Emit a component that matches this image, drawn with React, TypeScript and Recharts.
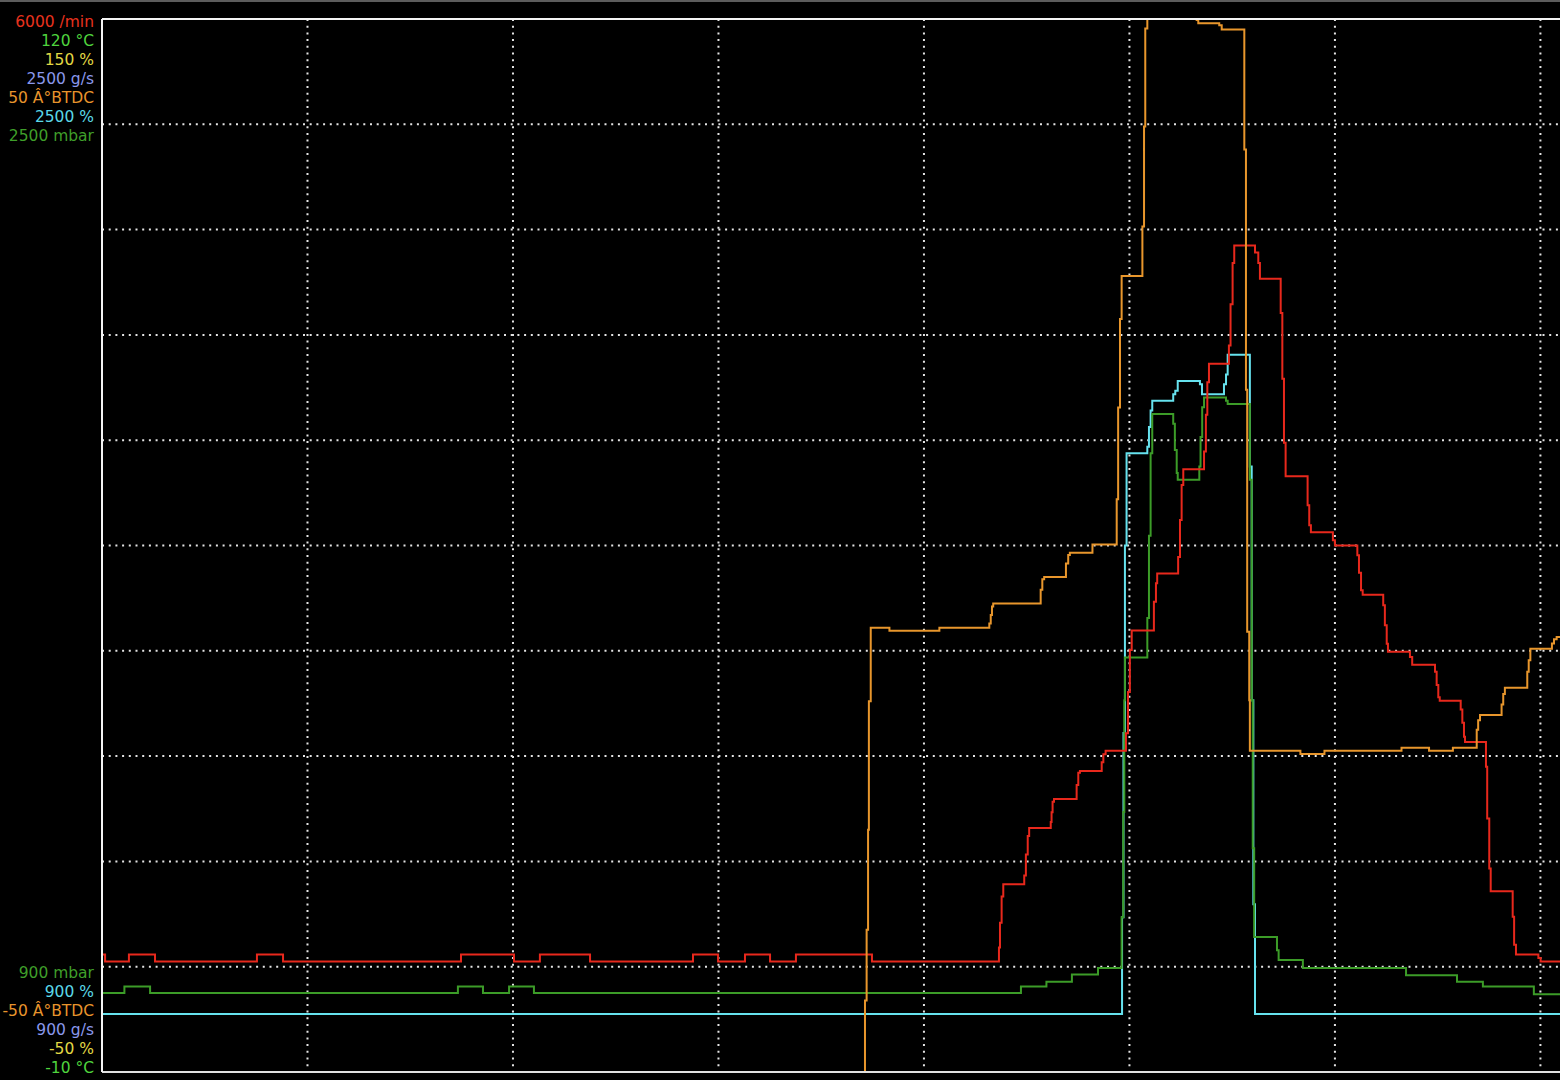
import { CartesianGrid, Line, LineChart, ReferenceLine, XAxis, YAxis } from "recharts";

// [time s, value] – each entry starts a new level (step trace)
type Step = [number, number];

const rpmSteps: Step[] = [
  [0, 670], [0.15, 630], [1.31, 670], [2.58, 630], [7.54, 670], [8.81, 630],
  [17.47, 670], [20.05, 630], [21.31, 670], [23.75, 630], [28.76, 670], [29.98, 630],
  [31.29, 670], [32.51, 630], [33.77, 670], [37.47, 630],
  [43.65, 710], [43.7, 850], [43.78, 1000], [43.86, 1070],
  [44.88, 1120], [44.96, 1240], [45.05, 1345], [45.12, 1390],
  [46.17, 1425], [46.21, 1480], [46.26, 1540], [46.33, 1555],
  [47.43, 1635], [47.51, 1705], [47.59, 1715],
  [48.65, 1765], [48.73, 1810], [48.84, 1830],
  [49.83, 1930], [49.93, 2165], [50.02, 2405], [50.11, 2515],
  [51.19, 2680], [51.29, 2785], [51.35, 2840],
  [52.37, 2935], [52.46, 3145], [52.54, 3345], [52.62, 3435],
  [53.63, 3535], [53.72, 3745], [53.79, 3930], [53.87, 4035],
  [54.84, 4140], [54.92, 4375], [55.02, 4610], [55.1, 4710],
  [56.11, 4670], [56.27, 4610], [56.35, 4520],
  [57.36, 4325], [57.44, 3950], [57.52, 3585], [57.6, 3395],
  [58.67, 3230], [58.75, 3115], [58.83, 3075],
  [59.9, 3030], [60.0, 3000],
  [61.09, 2945], [61.17, 2845], [61.27, 2745], [61.35, 2720],
  [62.35, 2660], [62.43, 2545], [62.52, 2440], [62.58, 2395],
  [63.65, 2365], [63.76, 2320],
  [64.87, 2280], [64.95, 2205], [65.03, 2135], [65.1, 2115],
  [66.12, 2065], [66.2, 1990], [66.28, 1910], [66.33, 1880],
  [67.35, 1740], [67.41, 1445], [67.51, 1160], [67.58, 1030],
  [68.65, 885], [68.72, 725], [68.81, 670],
  [69.9, 650], [70.01, 630], [71.05, 630],
];

const mbarSteps: Step[] = [
  [0, 1020], [1.09, 1030], [2.34, 1020], [17.32, 1030], [18.54, 1020], [19.81, 1030],
  [21.02, 1020], [44.72, 1030], [45.96, 1037], [47.2, 1048], [48.47, 1058],
  [49.62, 1135], [49.7, 1295], [49.75, 1465], [49.78, 1530],
  [50.87, 1590], [50.95, 1715], [51.03, 1840], [51.11, 1900],
  [52.13, 1885], [52.21, 1845], [52.3, 1810], [52.35, 1800],
  [53.4, 1820], [53.46, 1865], [53.54, 1910], [53.63, 1925],
  [54.7, 1920], [54.78, 1915],
  [55.86, 1800], [55.95, 1465], [56.0, 1240], [56.07, 1105],
  [57.18, 1085], [57.26, 1070], [58.44, 1058], [63.46, 1047], [65.94, 1037],
  [67.2, 1030], [69.68, 1018], [71.05, 1018],
];

const boostSteps: Step[] = [
  [0, 988], [49.64, 1135], [49.71, 1415], [49.78, 1700], [49.86, 1840],
  [50.87, 1850], [50.95, 1880], [51.03, 1905], [51.11, 1920],
  [52.13, 1930], [52.23, 1935], [52.35, 1950],
  [53.43, 1945], [53.53, 1930], [54.6, 1945], [54.7, 1960], [54.78, 1990],
  [55.86, 1820], [55.95, 1465], [56.03, 1155], [56.11, 988], [71.05, 988],
];

const timingSteps: Step[] = [
  [37.1, -52], [37.13, -43.2], [37.21, -36.5], [37.28, -27], [37.32, -14.8], [37.41, -7.8],
  [38.32, -8.1], [40.75, -7.8],
  [43.18, -7.4], [43.25, -6.6], [43.31, -5.8], [43.37, -5.5],
  [45.68, -4.2], [45.76, -3.2], [45.85, -3.0],
  [46.91, -1.7], [47.02, -0.9], [47.1, -0.7], [48.2, 0.1],
  [49.38, 4.4], [49.45, 13.1], [49.54, 21.5], [49.62, 25.6],
  [50.63, 30.3], [50.71, 39.8], [50.77, 49.1], [50.87, 55],
  [53.27, 49.9], [53.35, 49.6], [54.37, 49.4], [54.49, 49.0],
  [55.59, 37.6], [55.67, 14.8], [55.73, -8.2], [55.83, -14.7], [55.86, -19.5],
  [58.32, -19.8], [59.49, -19.5], [63.24, -19.2], [64.58, -19.5], [65.74, -19.2],
  [66.9, -17.5], [66.97, -16.6], [67.06, -16.1],
  [68.11, -15.1], [68.19, -14.1], [68.27, -13.5],
  [69.36, -12.0], [69.43, -10.9], [69.51, -9.8],
  [70.56, -9.3], [70.66, -8.9], [70.79, -8.7], [71.05, -8.7],
];

const timeTicks = [10, 20, 30, 40, 50, 60, 70];
const rpmTicks = [600, 1200, 1800, 2400, 3000, 3600, 4200, 4800, 5400];

const topLabels = [
  { text: "6000 /min", color: "#e8321e" },
  { text: "120 °C", color: "#4fd43e" },
  { text: "150 %", color: "#e2d844" },
  { text: "2500 g/s", color: "#8a98ec" },
  { text: "50 Â°BTDC", color: "#e8942c" },
  { text: "2500 %", color: "#5ad8e8" },
  { text: "2500 mbar", color: "#3f9f2a" },
];

const bottomLabels = [
  { text: "900 mbar", color: "#3f9f2a" },
  { text: "900 %", color: "#5ad8e8" },
  { text: "-50 Â°BTDC", color: "#e8942c" },
  { text: "900 g/s", color: "#8a98ec" },
  { text: "-50 %", color: "#e2d844" },
  { text: "-10 °C", color: "#4fd43e" },
];

const toPoints = (steps: Step[]) => steps.map(([t, v]) => ({ t, v }));

function Labels({ items, top }: { items: { text: string; color: string }[]; top: number }) {
  return (
    <>
      {items.map((l, i) => (
        <div
          key={l.text}
          style={{
            position: "absolute",
            right: 1560 - 94,
            top: top + i * 19,
            lineHeight: "19px",
            whiteSpace: "nowrap",
            color: l.color,
            fontFamily: "'DejaVu Sans', sans-serif",
            fontSize: 15.5,
          }}
        >
          {l.text}
        </div>
      ))}
    </>
  );
}

export default function App() {
  const line = { type: "stepAfter" as const, dataKey: "v", dot: false, activeDot: false, strokeWidth: 2, isAnimationActive: false };
  // plot runs 2px past the window edge so the grid's closing line is cut off, like the reference
  return (
    <div style={{ position: "fixed", left: 0, top: 0, width: 1560, height: 1080, background: "#000", overflow: "hidden" }}>
      <div style={{ position: "absolute", left: 0, top: 0, width: 1560, height: 2, background: "#5c5c5c" }} />
      <LineChart width={1562} height={1080} margin={{ top: 19, right: 0, bottom: 8, left: 102 }}>
        <XAxis dataKey="t" type="number" domain={[0, 71.05]} ticks={timeTicks} hide />
        <YAxis yAxisId="rpm" type="number" domain={[0, 6000]} ticks={rpmTicks} hide />
        <YAxis yAxisId="mbar" type="number" domain={[900, 2500]} hide />
        <YAxis yAxisId="boost" type="number" domain={[900, 2500]} hide />
        <YAxis yAxisId="timing" type="number" domain={[-50, 50]} allowDataOverflow hide />
        <Line {...line} data={toPoints(boostSteps)} yAxisId="boost" stroke="#66e2ee" />
        <Line {...line} data={toPoints(mbarSteps)} yAxisId="mbar" stroke="#3c9c28" />
        <Line {...line} data={toPoints(rpmSteps)} yAxisId="rpm" stroke="#e8281c" />
        <Line {...line} data={toPoints(timingSteps)} yAxisId="timing" stroke="#e8962c" />
        <CartesianGrid yAxisId="rpm" stroke="#e4e4e4" strokeWidth={2} strokeDasharray="2 4.7" />
        <ReferenceLine yAxisId="rpm" y={6000} stroke="#f4f4f4" strokeWidth={2} />
        <ReferenceLine yAxisId="rpm" y={0} stroke="#e0e0e0" strokeWidth={2} />
        <ReferenceLine yAxisId="rpm" x={0} stroke="#f4f4f4" strokeWidth={2} />
      </LineChart>
      <Labels items={topLabels} top={13.3} />
      <Labels items={bottomLabels} top={963.8} />
    </div>
  );
}
